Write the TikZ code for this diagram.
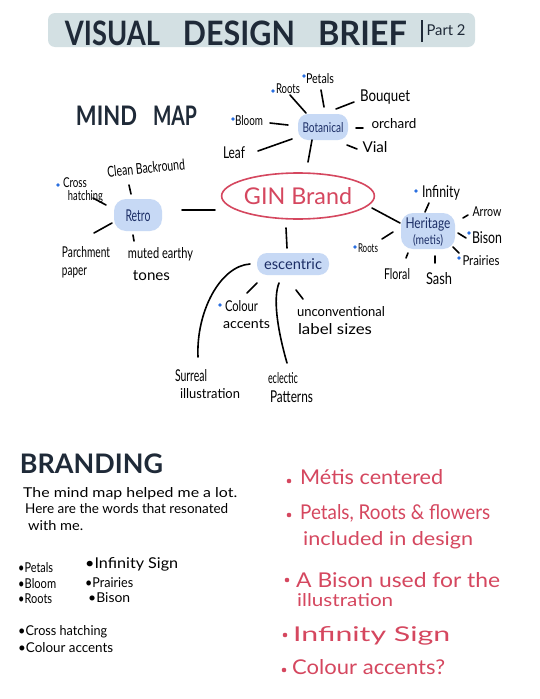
\documentclass[tikz,border=0pt]{standalone}
\usepackage{graphicx}
\usepackage{fontspec}
\setmainfont{Lato}
\usetikzlibrary{shapes.geometric}
\definecolor{banner}{HTML}{D3E0E3}
\definecolor{ink}{HTML}{1F2A38}
\definecolor{navy}{HTML}{1C2E66}
\definecolor{blobfill}{HTML}{C7D9F5}
\definecolor{ginred}{HTML}{D5475F}
\definecolor{dotblue}{HTML}{2A6FE0}
\newcommand\tx[3]{\resizebox{#1pt}{#2pt}{\raisebox{0pt}[\height][0pt]{\vphantom{Hl}#3}}}
\newcommand\lh[1]{\fontsize{10}{#1}\selectfont}
\newcommand\link[4]{\draw[lnk] ([shift={#2}]#1.center) -- ([shift={#4}]#3.center);}
\begin{document}
\begin{tikzpicture}[x=1pt,y=-1pt,
  txt/.style={inner sep=0pt, text=black},
  wtxt/.style={inner sep=0pt, text=black, anchor=west},
  rtxt/.style={inner sep=0pt, text=ginred, anchor=west},
  blob/.style={fill=blobfill, rounded corners=10pt, inner sep=0pt, text=navy},
  lnk/.style={line width=1.6pt, line cap=round, black},
  bdot/.style={fill=dotblue},
  rdot/.style={fill=ginred},
]
\useasboundingbox (0,0) rectangle (540,699);
\fill[white] (0,0) rectangle (540,699);

% ---------- title ----------
\node[fill=banner, minimum width=427, minimum height=34, inner sep=0pt, rounded corners=7pt] (banner) at (261.5,30) {};
\node[txt, text=ink] (title) at (236,32.5) {\bfseries\tx{95}{25}{VISUAL}\hspace{23pt}\tx{112}{25}{DESIGN}\hspace{23pt}\tx{89}{25}{BRIEF}};
\node[txt, text=ink, anchor=west] (part) at (421,31) {\rule[-7pt]{1.3pt}{22pt}\hspace{4pt}\tx{39}{11}{Part 2}};

% ---------- headings ----------
\node[txt, text=ink] (mindmap) at (136.5,115) {\bfseries\tx{61}{20}{MIND}\hspace{16pt}\tx{44}{20}{MAP}};
\node[txt, text=ink] (branding) at (91.5,463) {\bfseries\tx{143}{20}{BRANDING}};

% ---------- centre ----------
\node[ellipse, draw=ginred, line width=1.6pt, minimum width=150, minimum height=46, inner sep=0pt, text=ginred] (gin) at (298,196) {\tx{108}{17}{GIN Brand}};

% ---------- botanical ----------
\node[blob, minimum width=50, minimum height=26] (bot) at (323,127) {\tx{41}{10}{Botanical}};
\node[txt] (roots1) at (288,88) {\tx{24}{10}{Roots}};
\node[txt] (petals) at (320,78) {\tx{28}{10}{Petals}};
\node[txt] (bouquet) at (385,95) {\tx{50}{12}{Bouquet}};
\node[txt] (orchard) at (394,123) {\tx{45}{10}{orchard}};
\node[txt] (visl) at (375,147) {\tx{25}{11}{Vial}};
\node[txt] (bloom) at (249,120) {\tx{28}{10}{Bloom}};
\node[txt] (leaf) at (234,152) {\tx{22}{12}{Leaf}};
\fill[bdot] (273,91) circle (1.8);
\fill[bdot] (304,76) circle (1.8);
\fill[bdot] (233,119) circle (1.8);

% ---------- retro ----------
\node[blob, minimum width=48, minimum height=32, rounded corners=12pt] (retro) at (138,215) {\tx{25}{12}{Retro}};
\node[txt, rotate=6] (clean) at (146,168) {\tx{78}{11}{Clean Backround}};
\node[txt, align=left, font=\lh{13}] (cross) at (83,188.5) {\tx{24}{10}{Cross}\\\hspace*{5pt}\tx{35}{10}{hatching}};
\node[txt, align=left, font=\lh{18}] (parch) at (86,261) {\tx{48}{11}{Parchment}\\\tx{25}{11}{paper}};
\node[txt, align=left, font=\lh{22}] (muted) at (160.5,263.5) {\tx{65}{11}{muted earthy}\\\hspace*{5pt}\tx{37}{11}{tones}};
\fill[bdot] (58,185) circle (1.8);

% ---------- escentric ----------
\node[blob, minimum width=72, minimum height=22] (ecc) at (293,264) {\tx{58}{11}{escentric}};
\node[txt, align=left, font=\lh{17}] (colour) at (246.5,314.5) {\hspace*{2pt}\tx{33}{11}{Colour}\\\tx{47}{10}{accents}};
\node[txt, align=left, font=\lh{18}] (uncon) at (341,320) {\tx{88}{10}{unconventional}\\\hspace*{1pt}\tx{74}{11}{label sizes}};
\node[txt, align=left, font=\lh{17}] (surreal) at (207.5,383.5) {\tx{32}{12}{Surreal}\\\hspace*{5pt}\tx{60}{10}{illustration}};
\node[txt, align=left, font=\lh{19}] (eclectic) at (290.5,387.5) {\tx{30}{11}{eclectic}\\\hspace*{2pt}\tx{43}{12}{Patterns}};
\fill[bdot] (220,305) circle (1.8);

% ---------- heritage ----------
\node[blob, minimum width=54, minimum height=36, rounded corners=12pt, align=center, font=\lh{16}] (her) at (428,231) {\tx{45}{11}{Heritage}\\\tx{30}{10}{(metis)}};
\node[txt] (inf) at (441,191) {\tx{38}{12}{Infinity}};
\node[txt] (arrow) at (487,211) {\tx{29}{10}{Arrow}};
\node[txt] (bison) at (487,237) {\tx{30}{12}{Bison}};
\node[txt] (prairies) at (481,260) {\tx{37}{10}{Prairies}};
\node[txt] (roots2) at (368,248) {\tx{20}{9}{Roots}};
\node[txt] (floral) at (397,274) {\tx{26}{11}{Floral}};
\node[txt] (sash) at (439,278) {\tx{26}{12}{Sash}};
\fill[bdot] (416,191) circle (1.8);
\fill[bdot] (469,233) circle (1.8);
\fill[bdot] (459,258) circle (1.8);
\fill[bdot] (355,247) circle (1.8);

% ---------- connectors ----------
\link{bot}{(-17,-14)}{roots1}{(2,7)}
\link{bot}{(1,-20)}{petals}{(1,12)}
\link{bot}{(13,-18)}{bouquet}{(-31,7)}
\link{bot}{(33,1)}{orchard}{(-31,5)}
\link{bot}{(24,18)}{visl}{(-18,2)}
\link{bot}{(-35,-2)}{bloom}{(21,3)}
\link{bot}{(-31,12)}{leaf}{(24,-1)}
\link{bot}{(-11,13)}{gin}{(10,-34)}

\link{gin}{(-83,14)}{retro}{(44,-5)}
\link{gin}{(-12,32)}{ecc}{(-6,-16)}
\link{gin}{(74,12)}{her}{(-28,-8)}

\link{retro}{(-7,-21)}{clean}{(-17,17)}
\link{retro}{(-32,-10)}{cross}{(10,9.5)}
\link{retro}{(-26,8)}{parch}{(8,-28)}
\link{retro}{(-5,20)}{muted}{(-26.5,-22.5)}

\draw[lnk] ([shift={(-43,0)}]ecc.center) .. controls +(-30,2) and +(-2,-45) .. ([shift={(-9.5,-26.5)}]surreal.center);
\link{ecc}{(-36,19)}{colour}{(0.5,-21.5)}
\draw[lnk] ([shift={(-14,19)}]ecc.center) .. controls +(-6,15) and +(-10,-35) .. ([shift={(-3.5,-24.5)}]eclectic.center);
\link{ecc}{(3,26)}{uncon}{(-38,-21)}

\link{her}{(-3,-19)}{inf}{(-12,12)}
\link{her}{(35,-13)}{arrow}{(-19,4)}
\link{her}{(30,2)}{bison}{(-21,1)}
\link{her}{(25,16)}{prairies}{(-22,-7)}
\link{her}{(-35,1)}{roots2}{(14,-9)}
\link{her}{(-20,22)}{floral}{(9,-16)}
\link{her}{(7,25)}{sash}{(-4,-15)}

% ---------- branding text ----------
\node[wtxt] (p1) at (23,492) {\tx{214}{10}{The mind map helped me a lot.}};
\node[wtxt] (p2) at (25,508) {\tx{203}{10}{Here are the words that resonated}};
\node[wtxt] (p3) at (28,525) {\tx{55}{10}{with me.}};

\node[wtxt] (l1) at (18,567) {\tx{35}{10}{•Petals}};
\node[wtxt] (l2) at (18,583) {\tx{38}{10}{•Bloom}};
\node[wtxt] (l3) at (18,598) {\tx{34}{10}{•Roots}};
\node[wtxt] (l4) at (85,563) {\tx{93}{11}{•Infinity Sign}};
\node[wtxt] (l5) at (85,582) {\tx{48}{10}{•Prairies}};
\node[wtxt] (l6) at (88,597) {\tx{42}{10}{•Bison}};
\node[wtxt] (l7) at (18,630) {\tx{89}{10}{•Cross hatching}};
\node[wtxt] (l8) at (18,647) {\tx{95}{10}{•Colour accents}};

% ---------- red list ----------
\fill[rdot] (289,481) circle (2.3);
\fill[rdot] (289,515) circle (2.3);
\fill[rdot] (287,580) circle (2.3);
\fill[rdot] (285,635) circle (2.3);
\fill[rdot] (284,670) circle (2.3);
\node[rtxt] (r1) at (300,477) {\tx{143}{15}{Métis centered}};
\node[rtxt] (r2a) at (300,512) {\tx{190}{15}{Petals, Roots \& flowers}};
\node[rtxt] (r2b) at (303,538) {\tx{170}{14}{included in design}};
\node[rtxt] (r3a) at (296,580) {\tx{204}{15}{A Bison used for the}};
\node[rtxt] (r3b) at (297,600) {\tx{96}{13}{illustration}};
\node[rtxt] (r4) at (293,634) {\tx{157}{15}{Infinity Sign}};
\node[rtxt] (r5) at (292,667) {\tx{153}{15}{Colour accents?}};
\end{tikzpicture}
\end{document}
